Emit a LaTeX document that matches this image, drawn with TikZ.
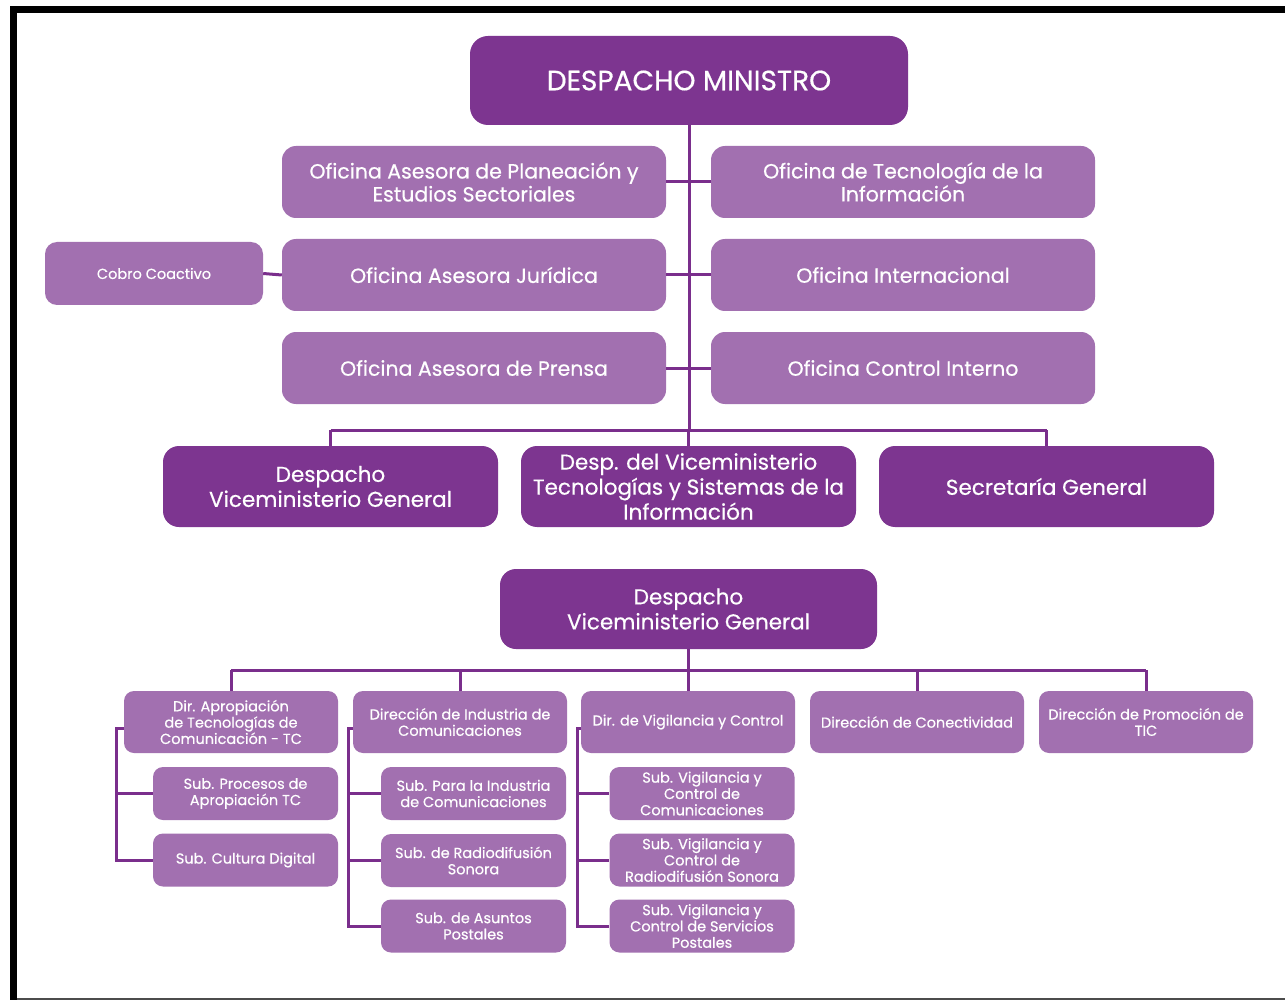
\documentclass[tikz,border=0pt]{standalone}
\usepackage{fontspec}
\setmainfont{Poppins}[FakeBold=0.5]
\definecolor{deep}{HTML}{7D3590}
\definecolor{soft}{HTML}{A270B0}
\definecolor{wirec}{HTML}{7A2E8C}
\begin{document}
\begin{tikzpicture}[x=1pt,y=-1pt,
  box/.style={text=white, align=center, inner sep=0pt, draw=none},
  topbox/.style={box, fill=deep, rounded corners=18pt,
    font=\fontsize{28}{32}\selectfont},
  headbox/.style={box, fill=deep, rounded corners=16pt,
    font=\fontsize{21.5}{25}\selectfont},
  office/.style={box, fill=soft, rounded corners=14pt,
    minimum width=384pt, minimum height=72pt,
    font=\fontsize{20.5}{23}\selectfont},
  unit/.style={box, fill=soft, rounded corners=10pt,
    font=\fontsize{14.5}{16.3}\selectfont},
  dirbox/.style={unit, minimum width=214pt, minimum height=62pt},
  subbox/.style={unit, minimum width=185pt, minimum height=53pt},
  wire/.style={draw=wirec, line width=3pt}]
\useasboundingbox (0,0) rectangle (1285,1000);
\fill[white] (0,0) rectangle (1285,1000);
% frame
\fill[black] (10,6) rectangle (1285,13);
\fill[black] (10,6) rectangle (17,1000);
\draw[black!70, line width=2pt] (17,999) -- (1285,999);

% ---- upper chart ----
\node[topbox, minimum width=438pt, minimum height=89pt] (mn) at (689,80.5) {DESPACHO MINISTRO};

\node[office] (pla) at (474,182) {Oficina Asesora de Planeación y\\Estudios Sectoriales};
\node[office] (tec) at (903,182) {Oficina de Tecnología de la\\Información};
\node[office] (jur) at (474,275) {Oficina Asesora Jurídica};
\node[office] (int) at (903,275) {Oficina Internacional};
\node[office] (pre) at (474,368) {Oficina Asesora de Prensa};
\node[office] (cin) at (903,368) {Oficina Control Interno};
\node[box, fill=soft, rounded corners=12pt, minimum width=218pt, minimum height=63pt,
  font=\fontsize{14.5}{17}\selectfont] (cob) at (154,273.5) {Cobro Coactivo};

\node[headbox, minimum width=335pt, minimum height=81pt] (vmg) at (330.5,486.5) {Despacho\\Viceministerio General};
\node[headbox, minimum width=335pt, minimum height=81pt] (vmt) at (688.5,486.5) {Desp. del Viceministerio\\Tecnologías y Sistemas de la\\Información};
\node[headbox, minimum width=335pt, minimum height=81pt] (sec) at (1046.5,486.5) {Secretaría General};

\coordinate (busA) at (330.5,430);
\coordinate (busB) at (1046.5,430);
\draw[wire] (mn.south) -- (mn.south |- busA);
\draw[wire] (busA) -- (busB);
\draw[wire] (busA) -- (vmg.north);
\draw[wire] (vmt.north |- busA) -- (vmt.north);
\draw[wire] (busB) -- (sec.north);
\draw[wire] (pla.east) -- (tec.west);
\draw[wire] (jur.east) -- (int.west);
\draw[wire] (pre.east) -- (cin.west);
\draw[wire] (cob.east) -- (jur.west);

% ---- lower chart ----
\node[headbox, minimum width=377pt, minimum height=80pt] (vg2) at (688.5,609) {Despacho\\Viceministerio General};

\node[dirbox] (d1) at (231,722) {Dir. Apropiación\\de Tecnologías de\\Comunicación - TC};
\node[dirbox] (d2) at (460,722) {Dirección de Industria de\\Comunicaciones};
\node[dirbox] (d3) at (688,722) {Dir. de Vigilancia y Control};
\node[dirbox] (d4) at (917,722) {Dirección de Conectividad};
\node[dirbox] (d5) at (1146,722) {Dirección de Promoción de\\TIC};

\node[subbox] (s11) at (245.5,793.5) {Sub. Procesos de\\Apropiación TC};
\node[subbox] (s12) at (245.5,860) {Sub. Cultura Digital};
\node[subbox] (s21) at (473.5,793.5) {Sub. Para la Industria\\de Comunicaciones};
\node[subbox] (s22) at (473.5,860.5) {Sub. de Radiodifusión\\Sonora};
\node[subbox] (s23) at (473.5,926) {Sub. de Asuntos\\Postales};
\node[subbox] (s31) at (702,793.5) {Sub. Vigilancia y\\Control de\\Comunicaciones};
\node[subbox] (s32) at (702,860) {Sub. Vigilancia y\\Control de\\Radiodifusión Sonora};
\node[subbox] (s33) at (702,926) {Sub. Vigilancia y\\Control de Servicios\\Postales};

\coordinate (busC) at (231,670);
\coordinate (busD) at (1146,670);
\draw[wire] (vg2.south) -- (vg2.south |- busC);
\draw[wire] (busC) -- (busD);
\foreach \d in {d1,d2,d3,d4,d5} \draw[wire] (\d.north |- busC) -- (\d.north);

% side spines of the three columns
\coordinate (sp1) at (116,728);
\coordinate (sp2) at (348,728);
\coordinate (sp3) at (577,728);
\draw[wire] (d1.west |- sp1) -- (sp1) |- (s12.west);
\draw[wire] (sp1 |- s11.west) -- (s11.west);
\draw[wire] (d2.west |- sp2) -- (sp2) |- (s23.west);
\draw[wire] (sp2 |- s21.west) -- (s21.west);
\draw[wire] (sp2 |- s22.west) -- (s22.west);
\draw[wire] (d3.west |- sp3) -- (sp3) |- (s33.west);
\draw[wire] (sp3 |- s31.west) -- (s31.west);
\draw[wire] (sp3 |- s32.west) -- (s32.west);
\end{tikzpicture}
\end{document}
